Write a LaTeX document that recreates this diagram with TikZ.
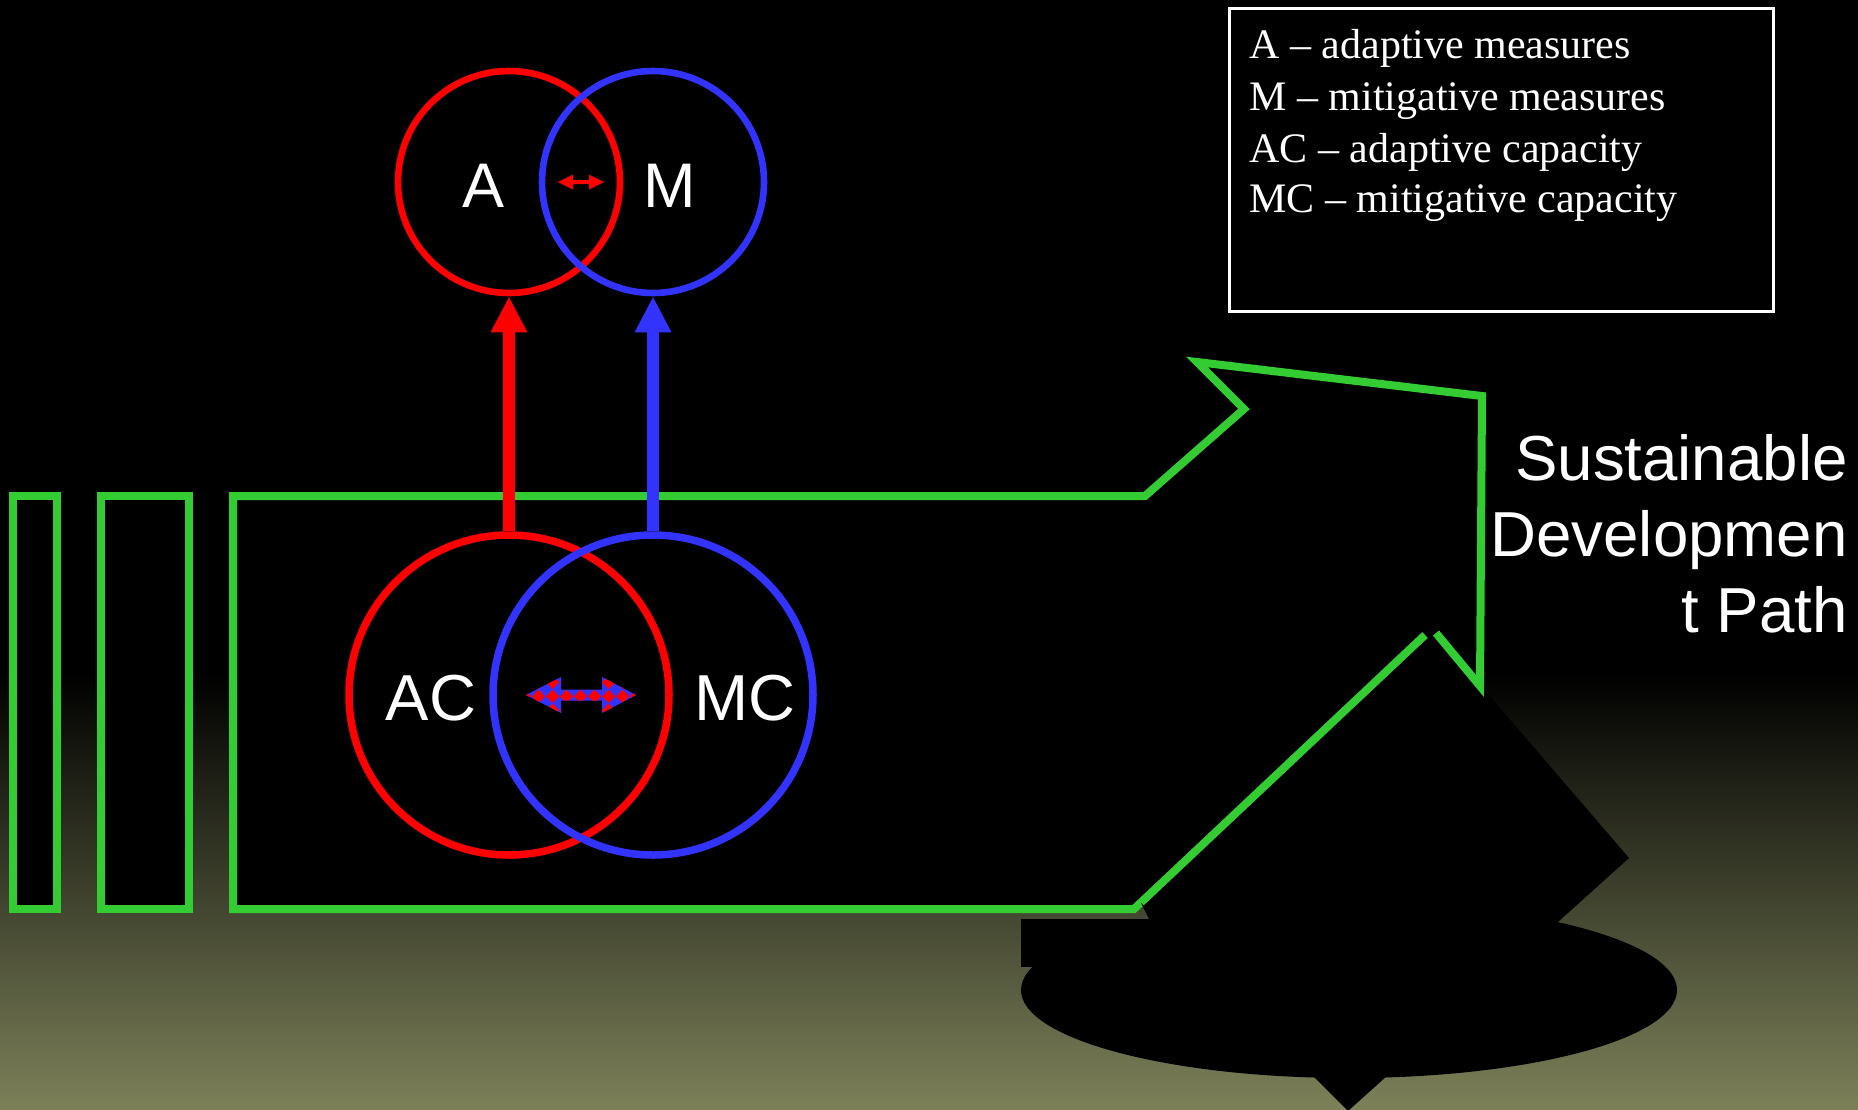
\documentclass[tikz,border=0pt]{standalone}
\usepackage{fontspec}
\setmainfont{Liberation Serif}
\newfontfamily\arialf{Liberation Sans}
\usetikzlibrary{arrows.meta,patterns}
\definecolor{grn}{RGB}{51,204,51}
\definecolor{myred}{RGB}{255,0,0}
\definecolor{myblue}{RGB}{51,51,255}
\definecolor{olivebot}{RGB}{124,129,89}
\pgfdeclarepatternformonly{diachk}{\pgfqpoint{0pt}{0pt}}{\pgfqpoint{7pt}{7pt}}{\pgfqpoint{7pt}{7pt}}{%
 \pgfpathmoveto{\pgfqpoint{3.5pt}{0pt}}\pgfpathlineto{\pgfqpoint{7pt}{3.5pt}}%
 \pgfpathlineto{\pgfqpoint{3.5pt}{7pt}}\pgfpathlineto{\pgfqpoint{0pt}{3.5pt}}%
 \pgfpathclose\pgfusepath{fill}}
\begin{document}
\begin{tikzpicture}[x=0.5pt,y=-0.5pt,
  gbox/.style={draw=grn,fill=black,line width=4pt,line join=miter},
  gline/.style={draw=grn,line width=4pt,line join=miter,line cap=butt},
  ringS/.style={circle,minimum size=111pt,inner sep=0pt,line width=3.3pt},
  ringL/.style={circle,minimum size=160pt,inner sep=0pt,line width=3.75pt},
  bigtxt/.style={anchor=base,text=white,inner sep=0pt,font=\arialf\fontsize{31.5}{36}\selectfont},
  bigtxtL/.style={anchor=base,text=white,inner sep=0pt,font=\arialf\fontsize{32.5}{38}\selectfont},
  vup/.style={line width=6pt,-{Triangle[length=18pt,width=17pt]}},
  legtxt/.style={anchor=base west,text=white,inner sep=0pt,font=\fontsize{21}{26}\selectfont},
  sdp/.style={anchor=base east,text=white,inner sep=0pt,font=\arialf\fontsize{31.8}{38}\selectfont}
]
\useasboundingbox (0,0) rectangle (1858,1109);
\fill[black] (0,0) rectangle (1858,1109);
\shade[top color=black,bottom color=olivebot] (0,673) rectangle (1858,1109);

% black occluding shapes
\fill[black] (1433,630) -- (1629,858) -- (1348,1111) -- (1135,897) -- cycle;
\fill[black] (1021,919) rectangle (1200,967);
\fill[black] (1349,990) ellipse [x radius=328, y radius=88];

% green outlines
\draw[gbox] (13,496) rectangle (57,909);
\draw[gbox] (101,496) rectangle (189,909);
\fill[black] (233,496) -- (1145,496) -- (1244,409) -- (1197,362) -- (1482,396)
  -- (1479,683) -- (1435,632) -- (1134,909) -- (233,909) -- cycle;
\draw[gline] (1436,633) -- (1480,686) -- (1482,396) -- (1197,362) -- (1244,409)
  -- (1145,496) -- (233,496) -- (233,909) -- (1134,909) -- (1425,635);
\fill[black] (1141,903) -- (1162,921) -- (1150,921) -- cycle;

% circles
\node[ringS,draw=myred] (cA) at (509,182) {};
\node[ringS,draw=myblue] (cM) at (653,182) {};
\node[ringL,draw=myred] (cAC) at (509,695) {};
\node[ringL,draw=myblue] (cMC) at (653,695) {};

\node[bigtxt] (tA) at (484,207) {A};
\node[bigtxt] (tM) at (670,207) {M};
\node[bigtxtL] (tAC) at (431,720) {AC};
\node[bigtxtL] (tMC) at (745,720) {MC};

% vertical arrows
\draw[vup,myred] (cAC.north) -- (cA.south);
\draw[vup,myblue] (cMC.north) -- (cM.south);

% double arrows
\fill[myred] (558,182) -- (573,174.5) -- (573,180) -- (589,180) -- (589,174.5) -- (604,182)
  -- (589,189.5) -- (589,184) -- (573,184) -- (573,189.5) -- cycle;
\path[preaction={fill=myblue},pattern=diachk,pattern color=myred]
  (526,695) -- (561,677) -- (561,689.5) -- (602,689.5) -- (602,677) -- (636,695)
  -- (602,713) -- (602,700.5) -- (561,700.5) -- (561,713) -- cycle;

% legend
\draw[white,line width=1.5pt] (1229,8) rectangle (1773,311);
\node[legtxt] (l1) at (1249,58) {A – adaptive measures};
\node[legtxt] (l2) at (1249,110) {M – mitigative measures};
\node[legtxt] (l3) at (1249,162) {AC – adaptive capacity};
\node[legtxt] (l4) at (1249,212) {MC – mitigative capacity};

% side label
\node[sdp] (s1) at (1848,480) {Sustainable};
\node[sdp] (s2) at (1848,556) {Developmen};
\node[sdp] (s3) at (1848,632) {t Path};
\end{tikzpicture}
\end{document}
